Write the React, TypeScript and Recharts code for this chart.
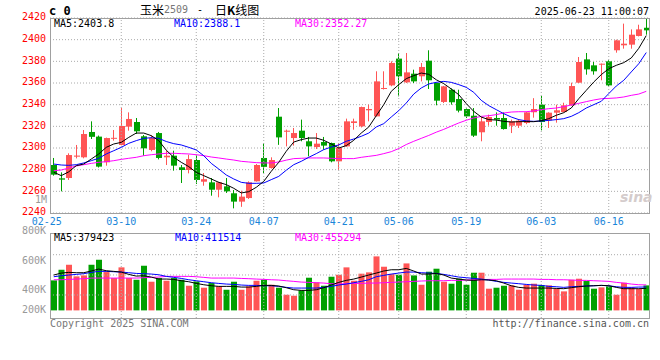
import {
  ComposedChart,
  Bar,
  Line,
  XAxis,
  YAxis,
  CartesianGrid,
  ReferenceLine,
  Cell,
} from 'recharts';

const MONO = '"DejaVu Sans Mono", monospace';
const CJK = '"Noto Sans CJK SC", sans-serif';
const RED = '#ff5555';
const GREEN = '#00a000';
const GRID = '#aaaaaa';

// trading days 2025-02-25 .. 2025-06-23
const DATES = [
  '02-25', '02-26', '02-27', '02-28',
  '03-03', '03-04', '03-05', '03-06', '03-07', '03-10', '03-11', '03-12', '03-13', '03-14',
  '03-17', '03-18', '03-19', '03-20', '03-21', '03-24', '03-25', '03-26', '03-27', '03-28', '03-31',
  '04-01', '04-02', '04-03', '04-07', '04-08', '04-09', '04-10', '04-11', '04-14', '04-15', '04-16',
  '04-17', '04-18', '04-21', '04-22', '04-23', '04-24', '04-25', '04-28', '04-29', '04-30',
  '05-06', '05-07', '05-08', '05-09', '05-12', '05-13', '05-14', '05-15', '05-16', '05-19', '05-20',
  '05-21', '05-22', '05-23', '05-26', '05-27', '05-28', '05-29', '05-30',
  '06-03', '06-04', '06-05', '06-06', '06-09', '06-10', '06-11', '06-12', '06-13', '06-16', '06-17',
  '06-18', '06-19', '06-20', '06-23',
];
const TICK_DATES = ['02-25', '03-10', '03-24', '04-07', '04-21', '05-06', '05-19', '06-03', '06-16'];
const GRID_DATES = ['03-10', '03-24', '04-07', '04-21', '05-06', '05-19', '06-03', '06-16'];

const OPEN = [
  2284.3, 2272.0, 2272.3, 2292.0, 2291.4, 2314.8, 2310.5, 2286.8, 2308.8, 2302.8,
  2319.7, 2324.0, 2310.8, 2298.2, 2313.8, 2291.4, 2292.9, 2282.2, 2279.7, 2288.9,
  2268.9, 2268.3, 2261.5, 2264.6, 2258.2, 2250.5, 2253.8, 2269.2, 2290.8, 2281.5,
  2328.9, 2315.0, 2309.2, 2316.0, 2306.2, 2300.9, 2305.5, 2304.6, 2287.7, 2301.5,
  2323.1, 2320.0, 2334.8, 2329.2, 2354.5, 2357.8, 2382.5, 2360.6, 2368.6, 2366.2,
  2380.6, 2360.0, 2342.5, 2353.8, 2345.2, 2336.0, 2329.8, 2314.5, 2324.0, 2327.7,
  2327.7, 2320.6, 2320.6, 2323.1, 2333.0, 2340.0, 2325.5, 2332.6, 2333.2, 2339.4,
  2360.3, 2381.8, 2376.3, 2377.5, 2380.0, 2390.2, 2394.8, 2395.4, 2403.4, 2411.0,
];
const HIGH = [
  2290.8, 2277.5, 2295.1, 2302.8, 2316.6, 2324.6, 2311.5, 2309.6, 2316.6, 2336.9,
  2332.9, 2327.7, 2312.0, 2311.7, 2314.8, 2297.5, 2297.5, 2284.3, 2293.8, 2293.8,
  2276.9, 2272.3, 2268.8, 2272.3, 2261.2, 2260.6, 2269.2, 2285.2, 2304.2, 2291.4,
  2336.9, 2317.0, 2318.5, 2326.2, 2310.2, 2313.8, 2310.2, 2305.0, 2304.6, 2327.1,
  2327.1, 2338.2, 2340.0, 2370.8, 2370.8, 2380.0, 2387.7, 2387.7, 2372.3, 2378.5,
  2390.2, 2360.5, 2357.3, 2355.0, 2353.8, 2336.5, 2336.9, 2328.6, 2330.8, 2332.9,
  2332.9, 2326.2, 2326.8, 2333.5, 2346.0, 2348.0, 2333.0, 2340.0, 2341.8, 2360.3,
  2384.0, 2387.7, 2379.4, 2378.0, 2381.0, 2400.0, 2414.8, 2409.5, 2413.8, 2419.4,
];
const LOW = [
  2274.5, 2260.0, 2270.5, 2290.4, 2290.5, 2308.3, 2282.0, 2283.7, 2306.8, 2302.5,
  2316.0, 2313.0, 2292.9, 2297.0, 2289.5, 2284.3, 2279.1, 2267.7, 2276.6, 2266.8,
  2265.2, 2256.0, 2254.5, 2258.5, 2244.3, 2245.7, 2253.0, 2269.0, 2276.9, 2281.0,
  2302.9, 2301.5, 2302.2, 2306.2, 2292.3, 2299.1, 2298.5, 2286.8, 2280.0, 2301.0,
  2316.9, 2319.0, 2324.6, 2329.0, 2354.0, 2357.0, 2347.7, 2360.0, 2360.0, 2361.5,
  2354.5, 2339.4, 2341.5, 2340.0, 2332.9, 2327.7, 2310.2, 2306.2, 2320.6, 2320.6,
  2317.0, 2313.8, 2318.5, 2322.0, 2328.0, 2316.3, 2318.5, 2323.4, 2333.0, 2339.0,
  2360.0, 2367.7, 2367.7, 2362.5, 2357.0, 2388.0, 2391.7, 2391.7, 2403.0, 2404.6,
];
const CLOSE = [
  2275.4, 2270.8, 2293.5, 2293.0, 2312.9, 2310.3, 2282.8, 2309.2, 2309.4, 2320.3,
  2326.8, 2315.4, 2299.7, 2309.2, 2290.8, 2292.9, 2283.7, 2279.7, 2289.8, 2270.5,
  2271.2, 2261.5, 2268.3, 2260.0, 2250.5, 2255.1, 2268.3, 2284.3, 2282.6, 2288.9,
  2309.8, 2316.0, 2313.8, 2309.2, 2301.5, 2304.0, 2302.2, 2287.7, 2300.0, 2324.6,
  2324.6, 2337.8, 2336.0, 2361.5, 2355.4, 2378.5, 2366.2, 2369.8, 2361.5, 2374.8,
  2362.5, 2343.7, 2356.9, 2342.2, 2334.5, 2329.2, 2311.4, 2324.6, 2328.6, 2326.2,
  2317.5, 2324.6, 2325.2, 2332.9, 2336.0, 2324.0, 2332.6, 2334.8, 2339.4, 2357.2,
  2379.4, 2372.6, 2370.8, 2377.8, 2357.8, 2399.4, 2396.3, 2404.6, 2409.5, 2408.6,
];
const MA5 = [
  2277.6, 2274.5, 2278.0, 2283.7, 2285.2, 2289.8, 2294.5, 2300.6, 2303.7, 2305.2,
  2309.8, 2313.8, 2313.8, 2311.4, 2306.8, 2298.0, 2291.4, 2286.8, 2282.8, 2277.5,
  2274.5, 2271.4, 2268.3, 2266.2, 2262.8, 2258.5, 2259.7, 2263.7, 2269.2, 2278.5,
  2286.8, 2297.0, 2305.5, 2307.7, 2309.2, 2309.2, 2307.1, 2303.7, 2300.0, 2302.2,
  2307.1, 2313.8, 2319.4, 2329.8, 2340.0, 2352.3, 2358.5, 2364.0, 2366.8, 2369.2,
  2368.0, 2363.0, 2359.4, 2354.5, 2349.2, 2341.0, 2333.8, 2328.6, 2326.2, 2325.8,
  2324.6, 2324.0, 2324.3, 2324.4, 2324.3, 2325.2, 2327.1, 2330.2, 2332.6, 2336.9,
  2345.5, 2353.2, 2360.9, 2367.7, 2373.2, 2376.3, 2378.8, 2383.1, 2392.0, 2403.8,
];
const MA10 = [
  2285.2, 2284.3, 2284.0, 2284.6, 2286.2, 2288.3, 2290.5, 2294.5, 2297.5, 2300.6,
  2304.3, 2306.8, 2308.9, 2309.5, 2308.9, 2306.0, 2304.0, 2302.8, 2300.6, 2298.2,
  2292.9, 2285.8, 2280.6, 2275.1, 2271.4, 2268.3, 2267.4, 2267.4, 2267.7, 2270.8,
  2273.8, 2279.5, 2284.6, 2287.7, 2291.4, 2294.8, 2298.5, 2300.9, 2302.8, 2306.2,
  2308.3, 2310.8, 2313.8, 2319.4, 2322.5, 2328.6, 2334.5, 2341.5, 2349.8, 2355.4,
  2359.1, 2360.6, 2361.5, 2360.6, 2358.5, 2356.0, 2351.4, 2344.0, 2339.1, 2335.4,
  2331.7, 2328.6, 2326.2, 2325.0, 2324.6, 2324.9, 2325.5, 2326.2, 2327.1, 2329.2,
  2332.6, 2336.9, 2340.0, 2343.1, 2350.2, 2357.2, 2362.5, 2370.2, 2377.8, 2388.1,
];
const MA30 = [
  2279.1, 2279.7, 2281.5, 2283.4, 2284.6, 2285.8, 2286.8, 2287.4, 2288.3, 2289.5,
  2290.5, 2291.4, 2292.9, 2293.8, 2294.5, 2295.1, 2295.1, 2294.8, 2294.5, 2293.8,
  2292.9, 2291.7, 2290.8, 2289.8, 2288.9, 2287.7, 2287.1, 2286.5, 2286.2, 2286.2,
  2287.1, 2288.8, 2290.2, 2290.5, 2290.8, 2290.8, 2290.8, 2290.5, 2290.2, 2290.2,
  2290.2, 2291.4, 2292.3, 2293.2, 2294.8, 2296.6, 2299.5, 2303.2, 2306.2, 2308.9,
  2311.6, 2314.6, 2317.2, 2320.2, 2323.1, 2325.6, 2327.7, 2329.2, 2329.8, 2330.8,
  2332.3, 2333.2, 2333.5, 2333.5, 2334.2, 2335.4, 2336.3, 2336.9, 2338.2, 2339.7,
  2341.2, 2342.8, 2344.3, 2345.5, 2345.8, 2346.2, 2347.1, 2348.6, 2349.8, 2352.3,
];

// volume, thousands of lots
const VOL = [
  516, 699, 785, 585, 602, 785, 871, 659, 556, 740,
  556, 527, 768, 493, 556, 510, 556, 527, 424, 499,
  390, 470, 413, 355, 493, 355, 413, 510, 527, 441,
  390, 269, 252, 344, 562, 482, 424, 579, 613, 740,
  510, 631, 654, 929, 751, 625, 613, 808, 602, 441,
  665, 717, 493, 459, 545, 441, 648, 648, 373, 390,
  424, 430, 355, 441, 459, 436, 430, 373, 327, 527,
  545, 505, 373, 396, 413, 269, 476, 396, 367, 430,
];
const VMA5 = [
  608, 642, 654, 648, 648, 677, 711, 682, 671, 659,
  619, 590, 596, 573, 539, 539, 533, 510, 493, 464,
  441, 424, 413, 413, 413, 401, 401, 413, 430, 430,
  419, 390, 355, 344, 344, 355, 390, 436, 482, 516,
  539, 573, 608, 642, 677, 699, 699, 722, 677, 625,
  625, 636, 608, 556, 539, 522, 516, 527, 522, 510,
  470, 424, 396, 384, 384, 384, 384, 378, 373, 390,
  407, 419, 424, 430, 424, 396, 373, 373, 373, 379,
];
const VMA10 = [
  579, 596, 608, 619, 631, 654, 671, 671, 665, 659,
  648, 636, 631, 625, 613, 585, 568, 550, 527, 510,
  493, 476, 464, 453, 447, 436, 430, 430, 424, 424,
  413, 396, 384, 384, 384, 384, 396, 413, 436, 453,
  476, 499, 527, 579, 602, 625, 642, 659, 659, 648,
  642, 636, 619, 596, 573, 562, 550, 539, 522, 499,
  482, 470, 459, 447, 436, 430, 413, 407, 396, 407,
  413, 419, 424, 430, 424, 407, 396, 396, 401, 402,
];
const VMA30 = [
  527, 527, 533, 539, 545, 556, 556, 556, 556, 556,
  556, 556, 562, 568, 573, 585, 585, 585, 585, 579,
  568, 556, 556, 556, 556, 550, 545, 539, 533, 527,
  522, 510, 499, 487, 482, 476, 470, 459, 453, 459,
  464, 464, 470, 470, 476, 482, 487, 493, 499, 505,
  510, 510, 510, 516, 516, 522, 527, 527, 533, 533,
  539, 539, 539, 539, 539, 533, 533, 527, 527, 522,
  516, 516, 510, 505, 499, 482, 470, 453, 441, 438,
];

const PRICE_TICKS = [2240, 2260, 2280, 2300, 2320, 2340, 2360, 2380, 2400, 2420];
const VOL_DOMAIN = [-131, 1314];
const VOL_TICKS = [1370, 863, 365, 12];
const VOL_TICK_LABELS = ['800K', '600K', '400K', '200K'];
const VOL_GRID = [958, 609, 265];

const rows = DATES.map((date, i) => ({
  date,
  open: OPEN[i],
  high: HIGH[i],
  low: LOW[i],
  close: CLOSE[i],
  ma5: MA5[i],
  ma10: MA10[i],
  ma30: MA30[i],
  vol: VOL[i],
  vma5: VMA5[i],
  vma10: VMA10[i],
  vma30: VMA30[i],
}));

function Candle(props: any) {
  const { x, y, width, height, payload } = props;
  const { open, close, high, low } = payload;
  const color = close >= open ? RED : GREEN;
  const ppu = height / (high - low || 1);
  const top = y + (high - Math.max(open, close)) * ppu;
  const bodyH = Math.max(1, Math.abs(open - close) * ppu);
  const w = Math.round(width);
  const left = Math.round(x);
  return (
    <g>
      <rect x={left + Math.floor((w - 1) / 2)} y={y} width={1} height={height} fill={color} />
      <rect x={left} y={top} width={w} height={bodyH} fill={color} />
    </g>
  );
}

function DateTick({ x, y, payload }: any) {
  const first = payload.value === DATES[0];
  return (
    <text x={first ? x - 7 : x} y={y} dy={12} textAnchor="middle" fill="#1a86d9" fontSize={10} fontFamily={MONO}>
      {payload.value}
    </text>
  );
}

function PriceTick({ x, y, payload }: any) {
  return (
    <text x={x} y={y} dy={2.2} textAnchor="end" fill="#ff0000" fontSize={10} fontFamily={MONO}>
      {payload.value}
    </text>
  );
}

function VolTick({ x, y, payload }: any) {
  return (
    <text x={x} y={y} dy={3.6} textAnchor="end" fill="#999999" fontSize={10} fontFamily={MONO}>
      {VOL_TICK_LABELS[VOL_TICKS.indexOf(payload.value)]}
    </text>
  );
}

const txt = (extra: any) => ({
  position: 'absolute' as const,
  fontFamily: MONO,
  fontSize: 10,
  lineHeight: '12px',
  whiteSpace: 'nowrap' as const,
  ...extra,
});

export default function App() {
  return (
    <div style={{ position: 'absolute', left: 0, top: 0, width: 660, height: 360, background: '#fff', overflow: 'hidden' }}>
      <div style={{ position: 'absolute', left: 0, top: 0 }}>
        <ComposedChart width={660} height={228} data={rows} margin={{ top: 18, right: 10, bottom: 0, left: 0 }}>
          <CartesianGrid vertical={false} stroke={GRID} strokeDasharray="1 2" />
          {GRID_DATES.map((d) => (
            <ReferenceLine key={d} x={d} stroke={GRID} strokeDasharray="1 2" />
          ))}
          <XAxis
            dataKey="date"
            ticks={TICK_DATES}
            interval={0}
            height={15}
            tickLine={false}
            axisLine={false}
            tickSize={0}
            tickMargin={0}
            tick={<DateTick />}
          />
          <YAxis
            domain={[2240, 2420]}
            ticks={PRICE_TICKS}
            interval={0}
            width={50}
            allowDataOverflow
            tickLine={false}
            axisLine={false}
            tickSize={0}
            tickMargin={4}
            tick={<PriceTick />}
          />
          <Bar
            dataKey={(d: any) => [d.low, d.high]}
            barSize={6}
            shape={(p: any) => <Candle {...p} />}
            isAnimationActive={false}
          />
          <Line dataKey="ma30" type="linear" stroke="#ff00ff" strokeWidth={1} dot={false} isAnimationActive={false} />
          <Line dataKey="ma10" type="linear" stroke="#0000ff" strokeWidth={1} dot={false} isAnimationActive={false} />
          <Line dataKey="ma5" type="linear" stroke="#000000" strokeWidth={1} dot={false} isAnimationActive={false} />
        </ComposedChart>
      </div>

      <div style={{ position: 'absolute', left: 0, top: 220 }}>
        <ComposedChart width={660} height={100} data={rows} margin={{ top: 14, right: 10, bottom: 2, left: 0 }}>
          {VOL_GRID.map((v) => (
            <ReferenceLine key={v} y={v} stroke={GRID} strokeDasharray="1 2" />
          ))}
          {GRID_DATES.map((d) => (
            <ReferenceLine key={d} x={d} stroke={GRID} strokeDasharray="1 2" />
          ))}
          <XAxis dataKey="date" hide />
          <YAxis
            domain={VOL_DOMAIN}
            ticks={VOL_TICKS}
            interval={0}
            width={50}
            allowDataOverflow
            tickLine={false}
            axisLine={false}
            tickSize={0}
            tickMargin={4}
            tick={<VolTick />}
          />
          <Bar dataKey="vol" barSize={6} isAnimationActive={false}>
            {rows.map((r, i) => (
              <Cell key={i} fill={r.close >= r.open ? RED : GREEN} />
            ))}
          </Bar>
          <Line dataKey="vma30" type="linear" stroke="#ff00ff" strokeWidth={1} dot={false} isAnimationActive={false} />
          <Line dataKey="vma10" type="linear" stroke="#0000ff" strokeWidth={1} dot={false} isAnimationActive={false} />
          <Line dataKey="vma5" type="linear" stroke="#000000" strokeWidth={1} dot={false} isAnimationActive={false} />
        </ComposedChart>
      </div>

      {/* panel borders */}
      <div style={{ position: 'absolute', left: 50, top: 18, width: 600, height: 196, border: '1px solid #a0a0a0', boxSizing: 'border-box', pointerEvents: 'none' }} />
      <div style={{ position: 'absolute', left: 50, top: 233, width: 600, height: 86, border: '1px solid #a0a0a0', boxSizing: 'border-box', pointerEvents: 'none' }} />

      {/* header */}
      <div style={txt({ left: 49, top: 4, fontSize: 12, fontWeight: 'bold', lineHeight: '14px' })}>c 0</div>
      <div style={txt({ left: 140, top: 2, fontFamily: CJK, fontSize: 12, lineHeight: '16px' })}>玉米</div>
      <div style={txt({ left: 164, top: 4, color: '#777', lineHeight: '12px' })}>2509</div>
      <div style={txt({ left: 197, top: 4, lineHeight: '12px' })}>-</div>
      <div style={txt({ left: 215, top: 2, fontFamily: CJK, fontSize: 12, lineHeight: '16px' })}>
        日<b>K</b>线图
      </div>
      <div style={txt({ right: 11, top: 6 })}>2025-06-23 11:00:07</div>

      {/* price MA legend */}
      <div style={txt({ left: 54, top: 18, color: '#000' })}>MA5:2403.8</div>
      <div style={txt({ left: 174, top: 18, color: '#0000ff' })}>MA10:2388.1</div>
      <div style={txt({ left: 295, top: 18, color: '#ff00ff' })}>MA30:2352.27</div>
      <div style={txt({ left: 35, top: 195, color: '#999', lineHeight: '10px' })}>1M</div>

      {/* volume MA legend */}
      <div style={txt({ left: 54, top: 232, color: '#000' })}>MA5:379423</div>
      <div style={txt({ left: 175, top: 232, color: '#0000ff' })}>MA10:411514</div>
      <div style={txt({ left: 295, top: 232, color: '#ff00ff' })}>MA30:455294</div>

      {/* footer */}
      <div style={txt({ left: 50, top: 318, color: '#777' })}>Copyright 2025 SINA.COM</div>
      <div style={txt({ right: 11, top: 318, color: '#555' })}>http://finance.sina.com.cn</div>
      <div style={txt({ left: 620, top: 189, fontFamily: '"DejaVu Sans", sans-serif', fontSize: 14, fontStyle: 'italic', fontWeight: 'bold', color: '#d4cccc', lineHeight: '16px' })}>
        sina
      </div>
    </div>
  );
}
